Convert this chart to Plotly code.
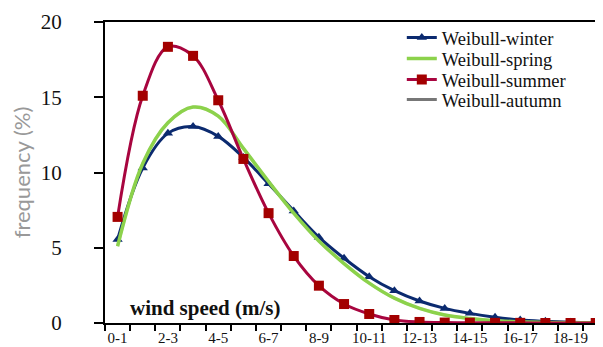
import plotly.graph_objects as go

categories = ["0-1", "1-2", "2-3", "3-4", "4-5", "5-6", "6-7", "7-8", "8-9", "9-10",
              "10-11", "11-12", "12-13", "13-14", "14-15", "15-16", "16-17", "17-18", "18-19", "19-20"]
tick_labels = ["0-1", "", "2-3", "", "4-5", "", "6-7", "", "8-9", "",
               "10-11", "", "12-13", "", "14-15", "", "16-17", "", "18-19", ""]

winter = [5.55, 10.3, 12.6, 13.05, 12.4, 11.0, 9.25, 7.45, 5.7, 4.3,
          3.08, 2.15, 1.46, 0.97, 0.64, 0.38, 0.2, 0.11, 0.05, 0.02]
spring = [5.1, 10.6, 13.3, 14.35, 13.75, 11.6, 9.4, 7.3, 5.45, 3.95,
          2.65, 1.65, 0.97, 0.53, 0.3, 0.15, 0.08, 0.04, 0.02, 0.01]
summer = [7.05, 15.1, 18.35, 17.75, 14.8, 10.9, 7.3, 4.45, 2.48, 1.26,
          0.6, 0.2, 0.07, 0.03, 0.02, 0.01, 0.01, 0.0, 0.0, 0.0]
autumn = [5.1, 10.6, 13.3, 14.35, 13.75, 11.6, 9.4, 7.3, 5.45, 3.95,
          2.65, 1.65, 0.97, 0.53, 0.3, 0.15, 0.08, 0.04, 0.02, 0.01]

serif = "Liberation Serif, Times New Roman, serif"

fig = go.Figure()
fig.add_trace(go.Scatter(
    x=categories, y=autumn, name="Weibull-autumn", mode="lines",
    line=dict(color="#777777", width=3, shape="spline"),
    opacity=0.25, legend="legend4", hoverinfo="skip", showlegend=False))
fig.add_trace(go.Scatter(
    x=categories, y=winter, name="Weibull-winter", mode="lines+markers",
    line=dict(color="#0b2a6f", width=3, shape="spline"),
    marker=dict(symbol="triangle-up", size=9, color="#0b2a6f"), legend="legend"))
fig.add_trace(go.Scatter(
    x=categories, y=spring, name="Weibull-spring", mode="lines",
    line=dict(color="#8cd24b", width=3.5, shape="spline"), legend="legend2"))
fig.add_trace(go.Scatter(
    x=categories, y=summer, name="Weibull-summer", mode="lines+markers",
    line=dict(color="#a8053f", width=3, shape="spline"),
    marker=dict(symbol="square", size=10, color="#a30000"), legend="legend3"))
fig.add_trace(go.Scatter(
    x=[None], y=[None], name="Weibull-autumn", mode="lines",
    line=dict(color="#777777", width=3), legend="legend4"))

def leg(y):
    return dict(x=0.596, y=y, xanchor="left", yanchor="middle",
                font=dict(family=serif, size=18.5, color="#111"),
                bgcolor="rgba(0,0,0,0)", itemwidth=30)

fig.update_layout(
    width=595, height=339,
    margin=dict(l=97, r=0, t=14, b=24, autoexpand=False),
    paper_bgcolor="white", plot_bgcolor="white",
    showlegend=True,
    legend=leg(0.947), legend2=leg(0.877), legend3=leg(0.807), legend4=leg(0.741),
    xaxis=dict(
        type="category", range=[-0.5, 19.29], automargin=False,
        tickmode="array", tickvals=categories, ticktext=tick_labels, tickangle=0,
        tickson="boundaries", ticks="outside", ticklen=6, tickwidth=1.5, tickcolor="black",
        showline=True, linecolor="black", linewidth=2, mirror=True,
        showgrid=False, zeroline=False,
        tickfont=dict(family=serif, size=15, color="#111"),
    ),
    yaxis=dict(
        range=[0, 20], tickvals=[0, 5, 10, 15, 20], automargin=False,
        ticks="outside", ticklen=9, tickwidth=2, tickcolor="black",
        showline=True, linecolor="black", linewidth=2,
        showgrid=False, zeroline=False,
        tickfont=dict(family=serif, size=21, color="#111"),
        ticklabelstandoff=28,
        title=dict(text="frequency (%)", font=dict(family="Lato, DejaVu Sans, sans-serif", size=22, color="#999999"), standoff=12),
    ),
    annotations=[dict(
        text="<b>wind speed (m/s)</b>", xref="paper", yref="paper",
        x=0.046, y=0.05, xanchor="left", yanchor="middle", showarrow=False,
        font=dict(family=serif, size=21, color="#111"))],
)

fig.write_html("out.html")
